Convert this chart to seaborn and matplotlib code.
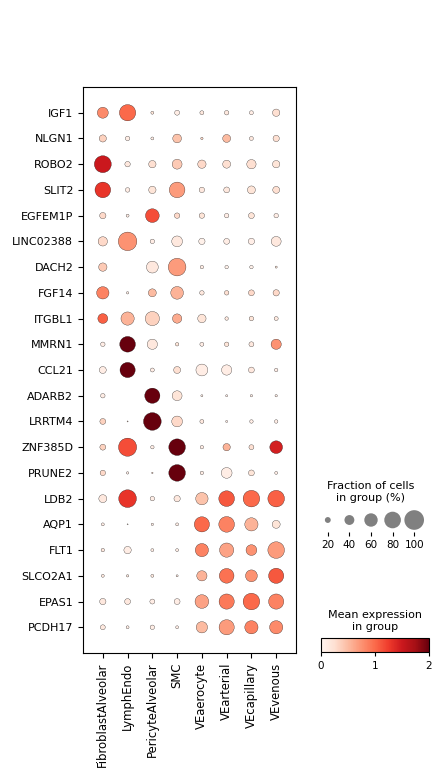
import numpy as np
import pandas as pd
import seaborn as sns
import matplotlib
matplotlib.use("Agg")
import matplotlib.pyplot as plt
from matplotlib.colors import Normalize
from matplotlib.cm import ScalarMappable

# 细胞类型 与 基因
groups = ["FibroblastAlveolar", "LymphEndo", "PericyteAlveolar", "SMC",
          "VEaerocyte", "VEarterial", "VEcapillary", "VEvenous"]
genes = ["IGF1", "NLGN1", "ROBO2", "SLIT2", "EGFEM1P", "LINC02388", "DACH2",
         "FGF14", "ITGBL1", "MMRN1", "CCL21", "ADARB2", "LRRTM4", "ZNF385D",
         "PRUNE2", "LDB2", "AQP1", "FLT1", "SLCO2A1", "EPAS1", "PCDH17"]

# fraction of cells in group (%)
frac_pct = [
    [46, 78, 8, 16, 12, 14, 12, 27],
    [26, 14, 8, 34, 6, 30, 12, 22],
    [82, 18, 27, 40, 32, 30, 37, 27],
    [74, 14, 27, 74, 18, 20, 30, 25],
    [22, 8, 62, 18, 18, 14, 20, 14],
    [37, 93, 14, 45, 22, 20, 22, 40],
    [32, 0, 51, 87, 10, 10, 10, 5],
    [54, 6, 30, 56, 14, 14, 20, 22],
    [40, 59, 65, 37, 32, 10, 14, 12],
    [14, 74, 42, 10, 12, 14, 16, 42],
    [25, 71, 12, 25, 51, 42, 20, 10],
    [14, 0, 71, 40, 5, 5, 6, 6],
    [20, 2, 87, 45, 12, 5, 10, 10],
    [20, 90, 10, 80, 10, 27, 16, 56],
    [18, 6, 3, 80, 10, 45, 20, 8],
    [30, 87, 14, 22, 54, 74, 80, 80],
    [8, 2, 6, 8, 71, 74, 59, 30],
    [10, 27, 8, 8, 59, 65, 45, 80],
    [8, 6, 8, 5, 42, 68, 51, 71],
    [22, 20, 16, 20, 62, 71, 80, 71],
    [16, 8, 14, 8, 48, 71, 59, 59],
]

# mean expression in group
mean_expr = [
    [0.8, 1.0, 0.2, 0.1, 0.15, 0.15, 0.1, 0.25],
    [0.35, 0.1, 0.1, 0.45, 0.3, 0.5, 0.15, 0.25],
    [1.5, 0.15, 0.25, 0.4, 0.3, 0.25, 0.25, 0.2],
    [1.3, 0.1, 0.2, 0.7, 0.15, 0.15, 0.2, 0.25],
    [0.3, 0.1, 1.15, 0.3, 0.2, 0.1, 0.2, 0.1],
    [0.3, 0.75, 0.1, 0.15, 0.05, 0.1, 0.08, 0.15],
    [0.4, 0.0, 0.15, 0.7, 0.1, 0.05, 0.05, 0.2],
    [0.85, 0.1, 0.5, 0.55, 0.15, 0.25, 0.3, 0.3],
    [1.05, 0.55, 0.35, 0.6, 0.2, 0.15, 0.2, 0.15],
    [0.1, 2.0, 0.15, 0.2, 0.1, 0.2, 0.15, 0.75],
    [0.1, 2.0, 0.1, 0.25, 0.1, 0.1, 0.15, 0.1],
    [0.1, 0.0, 2.0, 0.2, 0.1, 0.1, 0.1, 0.1],
    [0.35, 0.3, 2.0, 0.3, 0.15, 0.1, 0.1, 0.1],
    [0.35, 1.15, 0.1, 2.0, 0.1, 0.55, 0.25, 1.45],
    [0.3, 0.1, 0.3, 2.0, 0.1, 0.1, 0.2, 0.1],
    [0.15, 1.3, 0.1, 0.15, 0.45, 1.1, 1.0, 1.05],
    [0.1, 0.1, 0.1, 0.1, 1.0, 0.85, 0.55, 0.2],
    [0.15, 0.1, 0.1, 0.1, 0.85, 0.65, 0.75, 0.7],
    [0.15, 0.15, 0.15, 0.15, 0.55, 0.95, 0.75, 1.1],
    [0.15, 0.15, 0.1, 0.1, 0.65, 0.9, 1.0, 0.85],
    [0.15, 0.1, 0.1, 0.1, 0.5, 0.7, 0.85, 0.8],
]

legend_pct = [20, 40, 60, 80, 100]

LARGEST = 200  # 最大点面积
EXP = 1.5

# 整理成长表
rows = []
for i, g in enumerate(genes):
    for j, grp in enumerate(groups):
        rows.append({"gene": g, "group": grp, "xi": j, "yi": i,
                     "frac": frac_pct[i][j] / 100, "expr": mean_expr[i][j]})
df = pd.DataFrame(rows)
df["sz"] = df["frac"] ** EXP

plt.rcParams["font.family"] = ["DejaVu Sans"]
fig = plt.figure(figsize=(4.42, 7.76), dpi=100)

# 主图
ax = fig.add_axes([83 / 442, 1 - 653 / 776, 213 / 442, 566 / 776])
sns.scatterplot(data=df, x="xi", y="yi", size="sz", sizes=(0, LARGEST),
                size_norm=(0, 1), hue="expr", palette="Reds", hue_norm=(0, 2),
                edgecolor="black", linewidth=0.2, legend=False, ax=ax)
ax.set_xlim(-0.8, len(groups) - 0.2)
ax.set_ylim(len(genes), -1)
ax.set_xticks(range(len(groups)))
ax.set_xticklabels(groups, rotation=90, fontsize=8.4)
ax.set_yticks(range(len(genes)))
ax.set_yticklabels(genes, fontsize=8)
ax.set_xlabel("")
ax.set_ylabel("")
ax.grid(False)

# 点大小图例
lax = fig.add_axes([317 / 442, 1 - 532 / 776, 108 / 442, 24 / 776])
leg_df = pd.DataFrame({"x": range(len(legend_pct)), "y": 0,
                       "sz": (np.array(legend_pct) / 100) ** EXP})
sns.scatterplot(data=leg_df, x="x", y="y", size="sz", sizes=(0, LARGEST),
                size_norm=(0, 1), color="gray", edgecolor="none",
                legend=False, ax=lax)
lax.set_xlim(-0.5, len(legend_pct) - 0.5)
lax.set_ylim(-1, 1)
lax.set_xticks(range(len(legend_pct)))
lax.set_xticklabels([str(p) for p in legend_pct], fontsize=7.5)
lax.tick_params(axis="x", length=3, pad=3)
lax.set_yticks([])
lax.set_xlabel("")
lax.set_ylabel("")
for s in lax.spines.values():
    s.set_visible(False)
lax.set_title("Fraction of cells\nin group (%)", fontsize=8, pad=5)

# 颜色条
cax = fig.add_axes([321 / 442, 1 - 652 / 776, 108 / 442, 14 / 776])
sm = ScalarMappable(norm=Normalize(0, 2), cmap="Reds")
cb = fig.colorbar(sm, cax=cax, orientation="horizontal", ticks=[0, 1, 2])
cb.ax.tick_params(labelsize=7.5, length=3)
cb.outline.set_linewidth(0.8)
cax.set_title("Mean expression\nin group", fontsize=8, pad=6)

fig.savefig("out.png", dpi=100)
